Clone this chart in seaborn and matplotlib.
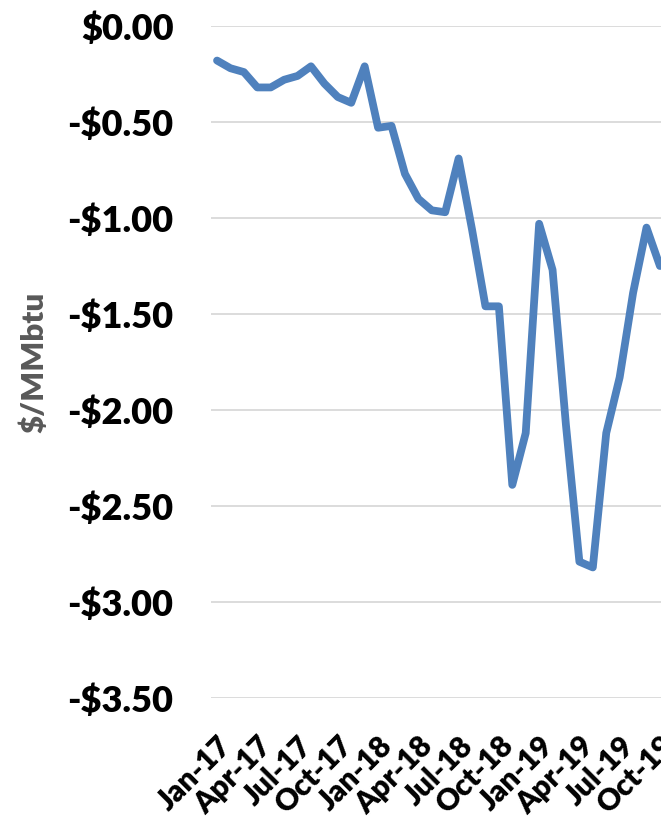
import matplotlib
matplotlib.use("Agg")
import matplotlib.pyplot as plt
import seaborn as sns
import pandas as pd
from matplotlib.ticker import FuncFormatter, MultipleLocator

months = ["Jan-17","Feb-17","Mar-17","Apr-17","May-17","Jun-17","Jul-17","Aug-17","Sep-17","Oct-17","Nov-17","Dec-17",
          "Jan-18","Feb-18","Mar-18","Apr-18","May-18","Jun-18","Jul-18","Aug-18","Sep-18","Oct-18","Nov-18","Dec-18",
          "Jan-19","Feb-19","Mar-19","Apr-19","May-19","Jun-19","Jul-19","Aug-19","Sep-19","Oct-19"]
values = [-0.18, -0.22, -0.24, -0.32, -0.32, -0.28, -0.26, -0.21, -0.30, -0.37, -0.40, -0.21,
          -0.53, -0.52, -0.77, -0.90, -0.96, -0.97, -0.69, -1.06, -1.46, -1.46, -2.39, -2.12,
          -1.03, -1.27, -2.08, -2.79, -2.82, -2.12, -1.83, -1.39, -1.05, -1.25]
tick_labels = months[::3]

df = pd.DataFrame({"idx": range(len(months)), "value": values})

sns.set_theme(style="white")
plt.rcParams['font.family'] = ['Lato', 'DejaVu Sans']

fig = plt.figure(figsize=(6.61, 8.22), dpi=100)
ax = fig.add_axes([211/661, 1 - 698/822, 1 - 211/661, (698 - 26)/822])

sns.lineplot(data=df, x="idx", y="value", ax=ax, color="#4F81BD", linewidth=5.6,
             solid_capstyle="round", solid_joinstyle="round", clip_on=False, zorder=3)

ax.set_ylim(-3.5, 0)
ax.set_xlim(-0.45, 33.08)
ax.yaxis.set_major_locator(MultipleLocator(0.5))
ax.yaxis.set_major_formatter(FuncFormatter(lambda v, p: ("-$%.2f" % abs(v)) if v < -1e-9 else "$%.2f" % abs(v)))
ax.grid(axis="y", color="#D9D9D9", linewidth=1.3)
ax.set_axisbelow(True)
for s in ax.spines.values():
    s.set_visible(False)

ax.set_xticks(range(0, len(months), 3))
ax.set_xticklabels(tick_labels, rotation=45, ha="right", va="top", rotation_mode="anchor",
                   fontsize=21.5, fontweight="heavy", color="black")
ax.tick_params(axis="x", length=0, pad=24)
ax.tick_params(axis="y", length=0, pad=27, labelsize=26, labelcolor="black")
for t in ax.get_yticklabels():
    t.set_fontweight("heavy")

ax.set_xlabel("")
ax.set_ylabel("$/MMbtu", fontsize=22.5, fontweight="heavy", color="#595959", labelpad=14)

fig.savefig("out.png", dpi=100)
